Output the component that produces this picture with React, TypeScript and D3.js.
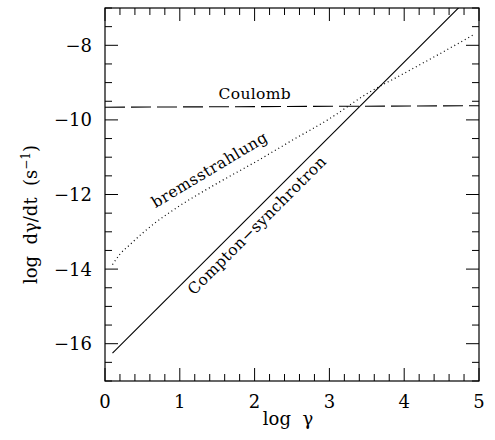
import React from 'react';
import * as d3 from 'd3';

// values
const xTicks = [0, 1, 2, 3, 4, 5];
const yTicks = [-16, -14, -12, -10, -8];

const comptonX = [0.1, 5];
const comptonY = [-16.25, -6.45];

const coulombX = [0, 5];
const coulombY = [-9.66, -9.62];

const bremsX = [0.1, 0.2, 0.33, 0.5, 0.67, 1.0, 1.5, 2.0, 2.5, 3.0, 3.5, 4.0, 4.5, 4.95];
const bremsY = [-13.88, -13.6, -13.35, -13.04, -12.76, -12.3, -11.7, -11.14, -10.55, -9.97, -9.3, -8.75, -8.2, -7.69];

const W = 495;
const H = 440;
const m = { left: 105, right: 479, top: 8, bottom: 381 };

function App() {
  const x = d3.scaleLinear().domain([0, 5]).range([m.left, m.right]);
  const y = d3.scaleLinear().domain([-17, -7]).range([m.bottom, m.top]);

  const line = d3.line<[number, number]>().x(d => x(d[0])).y(d => y(d[1]));
  const zip = (a: number[], b: number[]) => a.map((v, i) => [v, b[i]] as [number, number]);

  const xMinor = d3.range(0, 5.001, 0.2).filter(v => Math.abs(v - Math.round(v)) > 1e-6);
  const yMinor = d3.range(-17, -6.999, 0.5).filter(v => !yTicks.includes(v));

  const font = "'DejaVu Serif', serif";
  const bigTick = 13;
  const smallTick = 7;

  const lbl = (px: number, py: number) => [x(px), y(py)];
  const [cx, cy] = lbl(2.0, -9.43);
  const [bx, by] = lbl(1.43, -11.46);
  const [kx, ky] = lbl(2.08, -12.93);

  return (
    <svg width={W} height={H} style={{ position: 'absolute', left: 0, top: 0, background: '#fff' }}>
      <defs>
        <clipPath id="plot">
          <rect x={m.left} y={m.top} width={m.right - m.left} height={m.bottom - m.top} />
        </clipPath>
      </defs>

      <g stroke="#000" strokeWidth={1}>
        {xTicks.map(t => (
          <g key={'x' + t}>
            <line x1={x(t)} x2={x(t)} y1={m.bottom} y2={m.bottom - bigTick} />
            <line x1={x(t)} x2={x(t)} y1={m.top} y2={m.top + bigTick} />
          </g>
        ))}
        {xMinor.map(t => (
          <g key={'xm' + t}>
            <line x1={x(t)} x2={x(t)} y1={m.bottom} y2={m.bottom - smallTick} />
            <line x1={x(t)} x2={x(t)} y1={m.top} y2={m.top + smallTick} />
          </g>
        ))}
        {yTicks.map(t => (
          <g key={'y' + t}>
            <line x1={m.left} x2={m.left + bigTick} y1={y(t)} y2={y(t)} />
            <line x1={m.right} x2={m.right - bigTick} y1={y(t)} y2={y(t)} />
          </g>
        ))}
        {yMinor.map(t => (
          <g key={'ym' + t}>
            <line x1={m.left} x2={m.left + smallTick} y1={y(t)} y2={y(t)} />
            <line x1={m.right} x2={m.right - smallTick} y1={y(t)} y2={y(t)} />
          </g>
        ))}
      </g>

      <g clipPath="url(#plot)" fill="none" stroke="#000">
        <path d={line(zip(comptonX, comptonY)) || ''} strokeWidth={1.1} />
        <path d={line(zip(coulombX, coulombY)) || ''} strokeWidth={1.1} strokeDasharray="20,6" />
        <path d={d3.line<[number, number]>().x(d => x(d[0])).y(d => y(d[1])).curve(d3.curveMonotoneX)(zip(bremsX, bremsY)) || ''}
          strokeWidth={1.2} strokeDasharray="1,3" />
      </g>

      <rect x={m.left} y={m.top} width={m.right - m.left} height={m.bottom - m.top} fill="none" stroke="#000" strokeWidth={1.2} />

      <g fontFamily={font} fontSize={18} fill="#000">
        {xTicks.map(t => (
          <text key={'xl' + t} x={x(t)} y={408} textAnchor="middle">{t}</text>
        ))}
        {yTicks.map(t => (
          <text key={'yl' + t} x={92} y={y(t) + 6.5} textAnchor="end">{'\u2212' + Math.abs(t)}</text>
        ))}
        <text x={288} y={425} textAnchor="middle" xmlSpace="preserve">log  γ</text>
        <text transform={`translate(37,214.5) rotate(-90)`} textAnchor="middle" xmlSpace="preserve">
          log  dγ/dt  (s<tspan dy={-7} fontSize={12}>−1</tspan><tspan dy={7}>)</tspan>
        </text>
      </g>

      <g fontFamily={font} fontSize={15.5} fill="#000">
        <text x={cx} y={cy} textAnchor="middle" textLength={72} lengthAdjust="spacing">Coulomb</text>
        <text transform={`translate(${bx},${by}) rotate(-31)`} textAnchor="middle" textLength={132} lengthAdjust="spacing">bremsstrahlung</text>
        <text transform={`translate(${kx},${ky}) rotate(-45)`} textAnchor="middle" textLength={188} lengthAdjust="spacing">Compton−synchrotron</text>
      </g>
    </svg>
  );
}

export default App;
